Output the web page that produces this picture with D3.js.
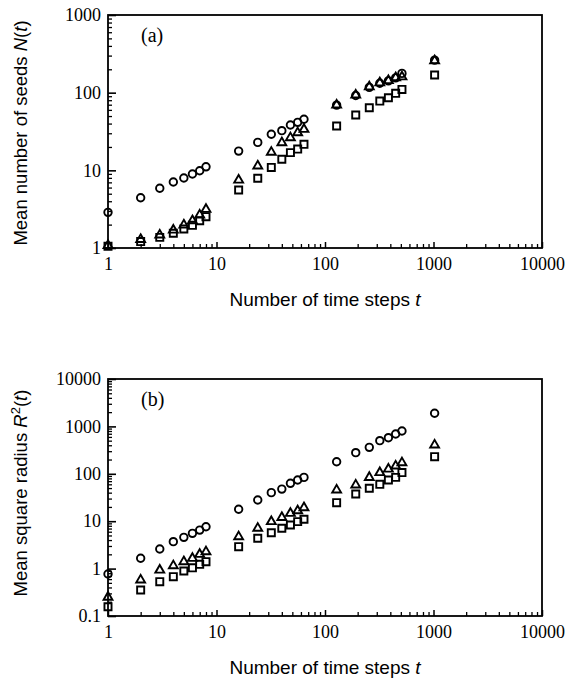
<!DOCTYPE html>
<html><head><meta charset="utf-8">
<script src="https://cdn.jsdelivr.net/npm/d3@7"></script>
<style>
html,body{margin:0;padding:0;background:#fff;}
svg{display:block;}
.domain{display:none;}
</style>
</head><body>
<svg id="chart" width="568" height="686"></svg>
<script>
// ---- data ----
const tSteps = [1,2,3,4,5,6,7,8,16,24,32,40,48,56,64,128,192,256,320,384,448,512,1024];

const seedsCircle   = [2.88,4.44,5.87,7.08,7.96,8.97,9.89,11.1,17.7,22.9,29.1,32.4,38.4,41.5,45.4,69,92,117,132,142,155,177,262];
const seedsTriangle = [1.08,1.29,1.47,1.70,1.98,2.25,2.66,3.15,7.5,11.4,17.1,22.7,26.3,30.5,33.7,69.4,93.3,119,134,143,156,160,258];
const seedsSquare   = [1.05,1.21,1.37,1.55,1.76,1.96,2.25,2.53,5.58,7.9,10.9,13.9,16.9,18.8,21.6,37.2,51.6,64,78,86,98,110,169];

const radiusCircle   = [0.77,1.65,2.59,3.7,4.57,5.55,6.5,7.65,17.9,28,40,47.6,63,74,84,180,279,362,500,578,692,800,1890];
const radiusTriangle = [0.25,0.575,0.93,1.15,1.4,1.65,2.0,2.27,4.7,7.1,9.8,12,14.7,16.6,19.3,45.5,58,84,106,126,146,171,405];
const radiusSquare   = [0.157,0.354,0.53,0.676,0.89,1.04,1.23,1.4,2.9,4.36,5.7,7.1,8.3,9.8,11,24.6,37.5,49.5,60,74,84,106,230];

const xTicks = [1,10,100,1000,10000];
const yTicksA = [1,10,100,1000];
const yTicksB = [0.1,1,10,100,1000,10000];

// ---- drawing ----
const svg = d3.select("#chart");
const X0 = 108, X1 = 542;
const SERIF = "Liberation Serif";
const SANS = "Liberation Sans";

function minorTicks(lo, hi){
  const out = [];
  for (let d = lo; d < hi; d *= 10) for (let k = 2; k <= 9; k++) out.push(d*k);
  return out;
}

function styleAxis(s, w){
  s.attr("font-family",SERIF).attr("font-size",18);
  s.select(".domain").remove();
  s.selectAll(".tick line").attr("stroke","#000").attr("stroke-width",w);
  s.selectAll(".tick text").attr("fill","#000")
    .attr("font-family",SERIF).attr("font-size",18);
}

function panel(opts){
  const g = svg.append("g");
  const x = d3.scaleLog().domain([1,10000]).range([X0,X1]);
  const y = d3.scaleLog().domain(opts.yDomain).range([opts.yBottom, opts.yTop]);

  // y axis major + minor (inward ticks)
  g.append("g").attr("transform",`translate(${X0},0)`)
    .call(d3.axisLeft(y).tickValues(opts.yTicks).tickSizeInner(-8).tickSizeOuter(0)
      .tickPadding(7).tickFormat(d3.format("~g")))
    .call(s => styleAxis(s,1.6));
  g.append("g").attr("transform",`translate(${X0},0)`)
    .call(d3.axisLeft(y).tickValues(minorTicks(opts.yDomain[0],opts.yDomain[1])).tickSizeInner(-4).tickSizeOuter(0).tickFormat(""))
    .call(s => styleAxis(s,1.3));

  // x axis major + minor
  g.append("g").attr("transform",`translate(0,${opts.yBottom})`)
    .call(d3.axisBottom(x).tickValues(xTicks).tickSizeInner(-6).tickSizeOuter(0)
      .tickPadding(9).tickFormat(d3.format("~g")))
    .call(s => styleAxis(s,1.5));
  g.append("g").attr("transform",`translate(0,${opts.yBottom})`)
    .call(d3.axisBottom(x).tickValues(minorTicks(1,10000)).tickSizeInner(-4).tickSizeOuter(0).tickFormat(""))
    .call(s => styleAxis(s,1.3));

  // frame
  g.append("rect").attr("x",X0).attr("y",opts.yTop)
    .attr("width",X1-X0).attr("height",opts.yBottom-opts.yTop)
    .attr("fill","none").attr("stroke","#000").attr("stroke-width",1.8);

  // series
  const series = [
    {vals: opts.circle,   sym: d3.symbolCircle,   size: 44},
    {vals: opts.triangle, sym: d3.symbolTriangle, size: 34},
    {vals: opts.square,   sym: d3.symbolSquare,   size: 50}
  ];
  series.forEach(s => {
    const sym = d3.symbol().type(s.sym).size(s.size);
    g.append("g").selectAll("path").data(tSteps.map((t,i)=>({t, v:s.vals[i]})))
      .join("path")
      .attr("transform", d => `translate(${x(d.t)},${y(d.v)})`)
      .attr("d", sym)
      .attr("fill","none").attr("stroke","#000").attr("stroke-width",1.9);
  });

  // panel label
  g.append("text").attr("x",141).attr("y",opts.yTop+27)
    .attr("font-family",SERIF).attr("font-size",20)
    .text(opts.label);

  // x title
  const xt = g.append("text").attr("x",(X0+X1)/2).attr("y",opts.yBottom+58)
    .attr("text-anchor","middle").attr("font-family",SANS).attr("font-size",19);
  xt.append("tspan").text("Number of time steps ");
  xt.append("tspan").attr("font-style","italic").text("t");

  // y title
  const yt = g.append("text")
    .attr("transform",`translate(27,${opts.yTitleCenter}) rotate(-90)`)
    .attr("text-anchor","middle").attr("font-family",SANS).attr("font-size",18.5);
  opts.yTitle(yt);
}

panel({
  yDomain:[1,1000], yTop:15, yBottom:248, yTicks:yTicksA,
  circle:seedsCircle, triangle:seedsTriangle, square:seedsSquare,
  label:"(a)", yTitleCenter:133,
  yTitle: t => {
    t.append("tspan").text("Mean number of seeds ");
    t.append("tspan").attr("font-style","italic").text("N");
    t.append("tspan").text("(");
    t.append("tspan").attr("font-style","italic").text("t");
    t.append("tspan").text(")");
  }
});

panel({
  yDomain:[0.1,10000], yTop:379, yBottom:616, yTicks:yTicksB,
  circle:radiusCircle, triangle:radiusTriangle, square:radiusSquare,
  label:"(b)", yTitleCenter:493,
  yTitle: t => {
    t.append("tspan").text("Mean square radius ");
    t.append("tspan").attr("font-style","italic").text("R");
    t.append("tspan").attr("dy",-7).attr("font-size",13).text("2");
    t.append("tspan").attr("dy",7).text("(");
    t.append("tspan").attr("font-style","italic").text("t");
    t.append("tspan").text(")");
  }
});
</script>
</body></html>
